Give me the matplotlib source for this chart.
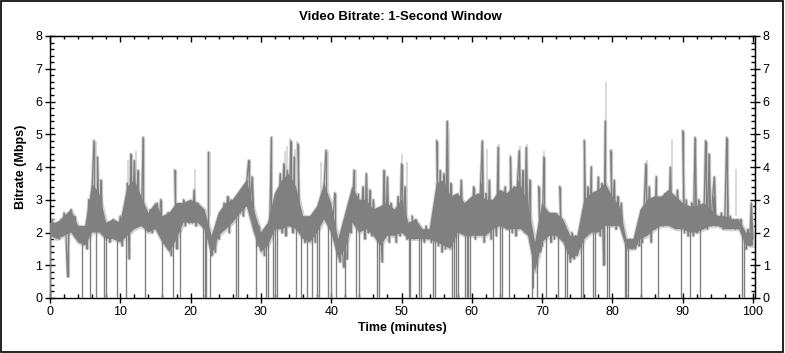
import numpy as np
import matplotlib
matplotlib.use("Agg")
import matplotlib.pyplot as plt
from matplotlib.patches import Rectangle
from matplotlib.ticker import MultipleLocator

# bitrate samples (Mbps), one every 0.25 min (spikes and dropouts)
rate = [
    0.0, 2.4, 1.9, 2.2,  2.3, 1.8, 2.2, 1.9,  2.6, 2.0, 0.65, 2.5,  2.7, 2.0, 2.5, 1.9,
    2.2, 1.7, 0.0, 1.9,  2.1, 1.5, 3.0, 0.0,  3.4, 4.8, 0.0, 4.3,  2.2, 3.6, 2.1, 0.0,
    0.0, 2.1, 1.7, 2.3,  2.4, 1.8, 0.0, 2.0,
    # 10
    2.5, 1.6, 2.3, 0.0,  3.5, 1.2, 4.4, 2.5,  4.2, 2.4, 3.9, 2.2,  2.3, 4.9, 0.0, 2.6,
    2.1, 2.7, 2.0, 2.6,  2.2, 2.9, 2.1, 3.0,  0.0, 2.4, 1.6, 2.6,  2.6, 1.3, 0.0, 3.9,
    1.5, 2.8, 0.0, 2.4,  3.0, 2.2, 2.9, 2.3,
    # 20
    2.8, 2.3, 3.3, 2.2,  2.9, 2.4, 2.6, 0.0,  0.0, 0.0, 4.5, 0.0,  1.3, 1.9, 1.4, 2.1,
    1.8, 2.5, 2.1, 2.9,  2.2, 3.1, 2.0, 3.0,  2.4, 3.0, 0.0, 0.0,  2.6, 3.1, 2.5, 3.2,
    3.6, 4.2, 2.9, 3.7,  2.6, 0.0, 1.6, 2.2,
    # 30
    1.5, 2.0, 1.3, 0.0,  0.0, 2.2, 4.9, 0.0,  0.0, 0.0, 2.2, 3.8,  2.0, 4.1, 1.9, 3.9,
    2.2, 4.8, 2.0, 4.3,  0.0, 4.7, 2.3, 0.0,  2.3, 1.7, 0.0, 2.4,  1.8, 0.0, 2.5, 1.7,
    0.0, 0.0, 3.0, 2.4,  3.5, 4.5, 0.0, 3.0,
    # 40
    0.0, 2.3, 3.2, 0.0,  1.6, 1.1, 1.8, 0.95, 0.0, 1.2, 2.9, 2.0,  2.6, 3.9, 0.0, 3.2,
    0.0, 2.2, 3.4, 1.8,  3.8, 2.0, 3.3, 1.9,  3.0, 2.1, 0.0, 0.0,  2.2, 1.1, 3.9, 2.0,
    3.7, 1.7, 2.9, 2.2,  2.5, 1.7, 3.1, 1.9,
    # 50
    4.1, 2.2, 3.4, 1.8,  0.0, 0.0, 2.5, 1.8,  2.4, 1.9, 0.0, 0.0,  2.0, 1.7, 2.2, 1.8,
    2.1, 1.7, 0.0, 0.0,  4.8, 1.6, 3.9, 1.4,  3.8, 1.5, 5.4, 1.8,  3.5, 0.0, 0.0, 0.0,
    0.0, 2.2, 3.6, 2.1,  0.0, 0.0, 0.0, 0.0,
    # 60
    2.2, 3.4, 1.8, 3.1,  2.0, 3.5, 4.8, 1.7,  3.2, 2.0, 3.6, 1.8,  0.0, 2.6, 1.9, 4.6,
    0.0, 0.0, 2.6, 3.4,  2.1, 0.0, 4.3, 2.0,  3.4, 1.9, 3.6, 4.5,  2.3, 3.9, 2.0, 4.6,
    2.0, 3.6, 0.0, 0.3,  1.2, 0.0, 3.4, 1.4,
    # 70
    1.6, 4.3, 0.0, 2.4,  2.6, 1.7, 2.5, 1.8,  2.4, 0.0, 3.4, 1.9,  2.2, 0.0, 0.0, 2.0,
    1.1, 2.0, 1.2, 1.9,  1.3, 1.9, 0.0, 0.0,  4.8, 1.9, 3.4, 2.0,  4.0, 0.0, 0.0, 2.2,
    3.7, 1.9, 3.5, 1.0,  5.4, 0.0, 0.0, 4.5,
    # 80
    2.2, 3.6, 2.1, 3.1,  2.2, 2.9, 2.1, 0.0,  0.0, 0.0, 1.8, 1.5,  1.8, 1.5, 1.7, 1.6,
    0.0, 1.7, 2.8, 4.1,  2.0, 3.4, 1.7, 3.0,  2.1, 3.7, 0.0, 2.4,  3.0, 2.2, 3.2, 2.3,
    2.5, 4.0, 2.2, 3.1,  2.2, 3.3, 2.3, 0.0,
    # 90
    5.1, 2.0, 3.0, 1.9,  0.0, 2.9, 1.9, 4.9,  2.0, 3.0, 0.0, 2.2,  2.3, 4.8, 2.1, 4.4,
    2.2, 3.1, 3.7, 2.2,  2.5, 2.2, 2.6, 2.1,  2.5, 4.9, 2.2, 2.5,  2.2, 2.4, 2.1, 2.4,
    2.2, 2.4, 0.0, 0.0,  1.5, 2.1, 1.6, 2.9,
    1.8,
]
minutes = np.arange(len(rate)) * 0.25

# dense core of the trace, bottom and top edge at every whole minute (0..100)
core_lo = [1.9, 1.8, 1.9, 2.0, 1.7, 1.6, 2.0, 2.0, 1.8, 1.8,
           1.7, 1.9, 2.1, 2.2, 2.0, 2.1, 1.7, 1.4, 1.8, 2.3,
           2.3, 2.3, 2.1, 1.3, 1.9, 2.1, 2.3, 2.6, 2.8, 2.0,
           1.4, 1.6, 2.1, 2.1, 2.2, 2.1, 1.8, 1.7, 2.0, 2.4,
           2.0, 1.2, 1.5, 2.3, 2.0, 2.1, 1.9, 1.6, 1.9, 1.9,
           2.0, 1.8, 1.8, 1.8, 1.8, 1.7, 1.6, 1.5, 2.0, 1.9,
           1.9, 1.9, 1.9, 2.1, 2.2, 2.1, 2.1, 2.1, 1.9, 0.8,
           1.7, 1.9, 1.9, 1.7, 1.2, 1.3, 1.8, 2.0, 2.0, 2.2,
           2.2, 2.2, 1.5, 1.5, 1.8, 1.9, 2.1, 2.2, 2.2, 2.1,
           2.1, 2.0, 2.0, 2.1, 2.2, 2.2, 2.1, 2.1, 2.1, 1.6,
           1.6]
core_hi = [2.3, 2.3, 2.5, 2.7, 2.2, 2.2, 3.5, 3.2, 2.3, 2.4,
           2.3, 3.4, 3.6, 3.1, 2.6, 2.9, 2.5, 2.6, 2.9, 2.9,
           3.0, 2.9, 2.7, 1.9, 2.6, 2.9, 3.0, 3.3, 3.6, 2.7,
           2.0, 2.3, 3.2, 3.6, 3.8, 3.4, 2.5, 2.5, 2.8, 3.5,
           2.9, 1.8, 2.6, 3.4, 3.0, 3.0, 2.7, 2.8, 2.9, 2.7,
           3.0, 2.3, 2.4, 2.1, 2.1, 3.5, 3.6, 3.1, 3.2, 2.9,
           3.1, 3.2, 3.0, 3.0, 3.3, 3.2, 3.4, 3.4, 2.9, 1.7,
           2.9, 2.6, 2.6, 2.4, 1.9, 1.9, 3.0, 3.2, 3.3, 3.5,
           3.1, 2.8, 1.8, 1.8, 2.7, 3.0, 3.1, 3.1, 3.3, 3.1,
           2.9, 2.8, 2.8, 2.9, 2.7, 2.5, 2.5, 2.4, 2.4, 2.0,
           2.0]
core_t = np.arange(len(core_lo))

# light grey peak tips that stick out above the dark trace
peak_t = [6.2, 6.5, 11.1, 12.3, 13.2, 17.9, 20.6, 22.7, 28.4, 31.5, 33.4, 33.7,
          34.2, 34.8, 35.2, 38.6, 39.4, 39.6, 43.5, 50.1, 50.8, 55.0, 56.5, 56.8,
          61.5, 62.2, 63.8, 65.5, 66.9, 67.8, 70.3, 76.1, 79.1, 79.9, 84.9, 88.5,
          90.0, 91.8, 93.3, 96.4, 97.6]
peak_v = [4.6, 4.8, 4.2, 4.5, 4.95, 3.9, 3.95, 4.45, 4.25, 4.95, 4.5, 4.65,
          4.9, 4.55, 4.8, 4.15, 4.55, 4.5, 3.9, 4.4, 4.15, 4.85, 5.4, 5.15,
          4.8, 4.55, 4.7, 4.4, 4.65, 4.7, 4.5, 4.85, 6.6, 4.55, 4.2, 4.85,
          5.1, 4.95, 4.85, 4.9, 3.95]

dark = "#808080"
light = "#d3d3d3"
font = "Liberation Sans"

rate = np.array(rate)
mid = np.interp(minutes, core_t, (np.array(core_lo) + np.array(core_hi)) / 2)
spikes = np.where(rate > 0.5, rate, mid)
wiggle = np.where(rate > 0.5, rate, np.nan)

fig = plt.figure(figsize=(7.85, 3.53), dpi=100)
ax = fig.add_axes([50 / 785, 1 - 298 / 353, 705 / 785, 262 / 353])

# light layer: peak tips, halo around the core and the spikes
ax.vlines(peak_t, 2.5, peak_v, color=light, lw=1.2, zorder=1)
ax.fill_between(core_t, core_lo, core_hi, facecolor=light, edgecolor=light, lw=2.2, zorder=2)
ax.vlines(minutes, mid, spikes, color=light, lw=2.4, zorder=2)
ax.plot(minutes, wiggle, color=light, lw=2.2, zorder=2)
# dark layer: core band, the sample-to-sample trace and one stroke per sample
ax.fill_between(core_t, core_lo, core_hi, facecolor=dark, edgecolor="none", zorder=3)
ax.plot(minutes, wiggle, color=dark, lw=0.9, zorder=4)
ax.vlines(minutes, mid, rate, color=dark, lw=1.0, zorder=4)

ax.set_xlim(0, 100.28)
ax.set_ylim(0, 8)

ax.xaxis.set_major_locator(MultipleLocator(10))
ax.xaxis.set_minor_locator(MultipleLocator(2))
ax.yaxis.set_major_locator(MultipleLocator(1))
ax.yaxis.set_minor_locator(MultipleLocator(0.2))
ax.tick_params(which="major", direction="inout", length=7, width=1, labelsize=9,
               left=True, bottom=True, top=False, right=False, pad=2)
ax.tick_params(which="minor", direction="in", length=3, width=1,
               left=True, bottom=True, top=False, right=False)
for lab in ax.get_xticklabels() + ax.get_yticklabels():
    lab.set_family(font)

# right axis with labels, top axis with inward ticks only
axr = ax.secondary_yaxis("right")
axr.yaxis.set_major_locator(MultipleLocator(1))
axr.yaxis.set_minor_locator(MultipleLocator(0.2))
axr.tick_params(which="major", direction="inout", length=7, width=1, labelsize=9, pad=2)
axr.tick_params(which="minor", direction="in", length=3, width=1)
for lab in axr.get_yticklabels():
    lab.set_family(font)

axt = ax.secondary_xaxis("top")
axt.xaxis.set_major_locator(MultipleLocator(10))
axt.xaxis.set_minor_locator(MultipleLocator(2))
axt.tick_params(which="major", direction="in", length=4, width=1, labeltop=False)
axt.tick_params(which="minor", direction="in", length=2, width=1)

for sp in ax.spines.values():
    sp.set_linewidth(1.0)

ax.set_xlabel("Time (minutes)", fontfamily=font, fontweight="bold", fontsize=9, labelpad=3)
ax.set_ylabel("Bitrate (Mbps)", fontfamily=font, fontweight="bold", fontsize=9, labelpad=6)
fig.text(0.51, 1 - 17 / 353, "Video Bitrate: 1-Second Window", ha="center", va="center",
         fontfamily=font, fontweight="bold", fontsize=9.5)

fig.patches.append(Rectangle((0.001, 0.002), 0.997, 0.996, transform=fig.transFigure,
                             fill=False, edgecolor="black", lw=1.2))

fig.savefig("out.png", dpi=100)
